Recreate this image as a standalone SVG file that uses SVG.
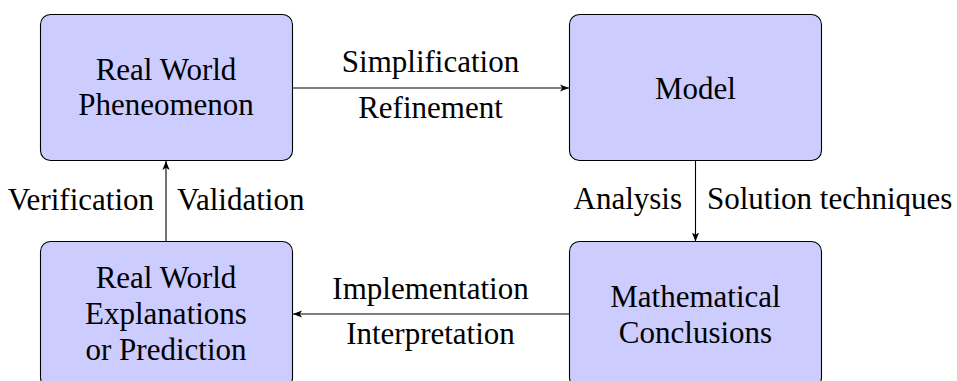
<svg xmlns="http://www.w3.org/2000/svg" width="957" height="381" viewBox="0 0 957 381">
<style>
.box{fill:#ccccff;stroke:#000;stroke-width:1.1}
text{font-family:'Liberation Serif','Times New Roman',serif;font-size:31px;fill:#000}
.c{text-anchor:middle}
.e{text-anchor:end}
.s{text-anchor:start}
.ln{stroke:#000;stroke-width:1.1;fill:none;marker-end:url(#ah)}
</style>
<defs>
<marker id="ah" viewBox="0 0 10 10" refX="10" refY="5" markerWidth="9" markerHeight="9" markerUnits="userSpaceOnUse" orient="auto">
<path d="M0,1 L10,5 L0,9 L2.5,5 Z" fill="#000"/>
</marker>
</defs>
<rect width="957" height="381" fill="#fff"/>
<g id="real-world">
<rect class="box" x="40.5" y="14.5" width="252" height="146" rx="10"/>
<text class="c" x="166" y="80">Real World</text>
<text class="c" x="166" y="115">Pheneomenon</text>
</g>
<g id="model">
<rect class="box" x="569.5" y="14.5" width="252" height="146" rx="10"/>
<text class="c" x="695.5" y="99">Model</text>
</g>
<g id="explanations">
<rect class="box" x="40.5" y="241.5" width="252" height="146" rx="10"/>
<text class="c" x="166" y="288">Real World</text>
<text class="c" x="166" y="324">Explanations</text>
<text class="c" x="166" y="360">or Prediction</text>
</g>
<g id="conclusions">
<rect class="box" x="569.5" y="241.5" width="252" height="146" rx="10"/>
<text class="c" x="695.5" y="307">Mathematical</text>
<text class="c" x="695.5" y="343">Conclusions</text>
</g>
<g id="connectors">
<line class="ln" x1="292.5" y1="88" x2="569" y2="88"/>
<line class="ln" x1="695.5" y1="160.5" x2="695.5" y2="241.5"/>
<line class="ln" x1="569.5" y1="314" x2="293" y2="314"/>
<line class="ln" x1="166" y1="241.5" x2="166" y2="161"/>
<text class="c" x="430.5" y="72">Simplification</text>
<text class="c" x="430.5" y="118">Refinement</text>
<text class="e" x="682" y="209">Analysis</text>
<text class="s" x="707" y="209">Solution techniques</text>
<text class="c" x="430.5" y="299">Implementation</text>
<text class="c" x="430.5" y="344">Interpretation</text>
<text class="e" x="154" y="210">Verification</text>
<text class="s" x="177" y="210">Validation</text>
</g>
</svg>
